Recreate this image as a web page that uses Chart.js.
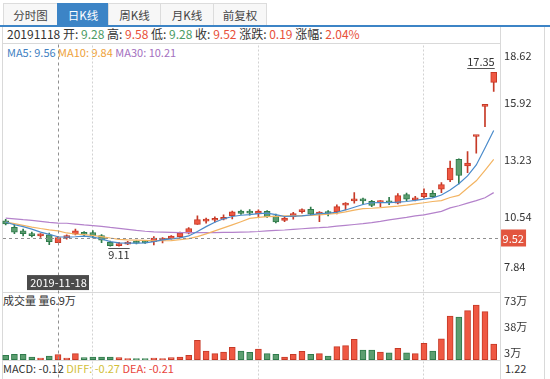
<!DOCTYPE html>
<html><head><meta charset="utf-8">
<script src="https://cdn.jsdelivr.net/npm/chart.js@4.4.1/dist/chart.umd.min.js"></script>
<style>
html,body{margin:0;padding:0;background:#fff;}
body{width:550px;height:379px;position:relative;overflow:hidden;font-family:"Noto Sans CJK SC",sans-serif;font-size:11px;color:#333;}
.tab{position:absolute;top:3px;height:22px;line-height:22px;text-align:center;box-sizing:border-box;border:1px solid #dcdcdc;border-bottom:none;background:#f7f7f7;color:#444;font-size:11.5px;}
.tab.on{background:#3c84c6;border-color:#3c84c6;color:#fff;}
.hl{position:absolute;height:1px;background:#d9d9d9;}
.vl{position:absolute;width:1px;background:#d9d9d9;}
.txt{position:absolute;white-space:nowrap;}
#c{position:absolute;left:0;top:0;}
.g{color:#4c9c65}.r{color:#e8503a}
</style></head>
<body>
<div class="tab" style="left:3px;width:55px">分时图</div>
<div class="tab on" style="left:57px;width:52px">日K线</div>
<div class="tab" style="left:108px;width:53px">周K线</div>
<div class="tab" style="left:160px;width:54px">月K线</div>
<div class="tab" style="left:213px;width:54px">前复权</div>
<div style="position:absolute;left:0;top:25px;width:550px;height:2px;background:#3c84c6"></div>
<div class="vl" style="left:2px;top:27px;height:352px"></div>
<div class="vl" style="left:500px;top:27px;height:352px"></div>
<div class="vl" style="left:544px;top:27px;height:352px"></div>
<div class="hl" style="left:2px;top:43px;width:499px"></div>
<div class="hl" style="left:2px;top:292px;width:499px"></div>
<div class="hl" style="left:2px;top:360px;width:499px"></div>
<div class="txt" id="info" style="left:7px;top:26px;line-height:16px;font-size:12px"></div>
<div class="txt" id="ma" style="left:7px;top:45px;line-height:15px"></div>
<div class="txt" id="volt" style="left:3px;top:293px;line-height:15px"></div>
<div class="txt" id="macd" style="left:3px;top:361px;line-height:15px"></div>
<div class="txt" id="macdAxis" style="left:505px;top:361px;line-height:15px"></div>
<canvas id="c" width="550" height="379"></canvas>
<script>
// ---------- data ----------
const dates = ['2019-11-08','2019-11-11','2019-11-12','2019-11-13','2019-11-14','2019-11-15','2019-11-18','2019-11-19','2019-11-20','2019-11-21','2019-11-22','2019-11-25','2019-11-26','2019-11-27','2019-11-28','2019-11-29','2019-12-02','2019-12-03','2019-12-04','2019-12-05','2019-12-06','2019-12-09','2019-12-10','2019-12-11','2019-12-12','2019-12-13','2019-12-16','2019-12-17','2019-12-18','2019-12-19','2019-12-20','2019-12-23','2019-12-24','2019-12-25','2019-12-26','2019-12-27','2019-12-30','2019-12-31','2020-01-02','2020-01-03','2020-01-06','2020-01-07','2020-01-08','2020-01-09','2020-01-10','2020-01-13','2020-01-14','2020-01-15','2020-01-16','2020-01-17','2020-01-20','2020-01-21','2020-01-22','2020-01-23','2020-02-03','2020-02-04','2020-02-05'];
const open  = [10.31,10.01,9.84,9.71,9.60,9.65,9.28,9.52,9.68,9.74,9.76,9.61,9.30,9.14,9.21,9.32,9.33,9.33,9.40,9.47,9.57,9.73,10.15,10.30,10.34,10.39,10.56,10.78,10.74,10.64,10.77,10.55,10.33,10.51,10.75,10.86,10.64,10.72,10.74,11.06,11.26,11.35,11.24,11.18,11.20,11.15,11.56,11.31,11.46,11.62,11.81,12.25,13.23,12.92,14.31,15.74,16.87];
const high  = [10.39,10.14,9.92,9.78,9.71,9.73,9.58,9.65,9.92,9.80,9.85,9.66,9.35,9.30,9.34,9.37,9.38,9.57,9.52,9.62,9.78,9.99,10.55,10.44,10.50,10.60,10.78,10.82,10.85,10.83,10.80,10.63,10.48,10.72,10.88,10.96,10.75,10.80,11.07,11.18,11.65,11.39,11.29,11.27,11.43,11.60,11.63,11.47,11.83,11.75,12.13,13.15,13.25,13.59,14.35,15.80,17.35];
const low   = [10.12,9.71,9.60,9.55,9.53,9.19,9.28,9.44,9.65,9.60,9.52,9.28,9.12,9.11,9.18,9.22,9.24,9.17,9.27,9.45,9.53,9.70,10.14,10.20,10.25,10.36,10.41,10.62,10.58,10.47,10.48,10.22,10.28,10.39,10.68,10.60,10.28,10.55,10.64,10.83,11.15,11.10,10.99,10.99,11.08,11.12,11.27,11.26,11.40,11.42,11.65,12.17,12.06,12.60,13.52,14.78,16.44];
const close = [10.17,9.78,9.71,9.61,9.66,9.33,9.52,9.60,9.84,9.68,9.60,9.40,9.14,9.24,9.30,9.26,9.27,9.50,9.46,9.59,9.73,9.95,10.37,10.37,10.40,10.47,10.74,10.66,10.68,10.78,10.51,10.26,10.44,10.66,10.83,10.63,10.72,10.66,10.99,11.15,11.34,11.26,11.04,11.21,11.17,11.51,11.34,11.39,11.62,11.46,12.03,12.81,12.46,13.05,14.35,15.80,17.35];
const volume = [5.9,7.2,7.2,3.6,2.3,4.9,6.9,2.3,8.0,2.7,3.6,3.6,3.6,2.7,1.3,1.0,1.0,2.3,1.3,2.7,3.6,5.9,25.9,11.6,8.0,10.3,16.6,11.6,9.9,14.3,8.0,7.2,3.6,7.2,11.2,7.2,8.0,4.9,17.4,18.7,27.2,13.0,13.0,10.3,9.3,15.2,9.3,8.0,21.9,11.6,28.0,58.3,57.0,65.4,73.0,64.1,21.0];
const ma5  = [10.25,10.13,10.04,9.92,9.78,9.67,9.56,9.54,9.56,9.59,9.54,9.46,9.33,9.27,9.26,9.26,9.27,9.33,9.41,9.46,9.51,9.60,9.81,10.04,10.25,10.41,10.52,10.58,10.61,10.66,10.68,10.61,10.52,10.54,10.55,10.60,10.66,10.68,10.72,10.83,10.96,11.09,11.17,11.18,11.18,11.20,11.23,11.28,11.34,11.40,11.54,11.78,12.07,12.44,12.96,13.76,14.59];
const ma10 = [10.25,10.18,10.10,10.02,9.95,9.89,9.84,9.74,9.69,9.66,9.62,9.57,9.50,9.44,9.41,9.40,9.39,9.37,9.37,9.38,9.42,9.47,9.57,9.70,9.84,9.98,10.12,10.27,10.43,10.48,10.51,10.53,10.55,10.55,10.56,10.57,10.60,10.63,10.67,10.74,10.82,10.89,10.91,10.94,10.98,11.01,11.06,11.12,11.17,11.23,11.27,11.42,11.52,11.87,12.21,12.71,13.22];
const ma30 = [10.44,10.41,10.37,10.34,10.29,10.24,10.21,10.20,10.16,10.12,10.09,10.05,10.00,9.96,9.91,9.86,9.82,9.79,9.78,9.77,9.76,9.76,9.76,9.76,9.76,9.77,9.77,9.78,9.79,9.81,9.84,9.86,9.88,9.91,9.94,9.97,9.99,10.02,10.06,10.10,10.14,10.18,10.23,10.29,10.36,10.42,10.48,10.55,10.60,10.68,10.76,10.93,11.03,11.15,11.27,11.41,11.65];
const priceTicks = [18.62, 15.92, 13.23, 10.54, 7.84];
const volTicks = [73, 38, 3];
const gridIndex = [10, 29, 48];
const crossIndex = 6;
const crossChange = 0.19, crossPct = 2.04;
const macdVals = {MACD: -0.12, DIFF: -0.27, DEA: -0.21};
const macdAxisLabel = 1.22;

// ---------- layout constants ----------
const PRICE_MIN = 2.822, PRICE_MAX = 18.62;
const VOL_MIN = -25.76, VOL_MAX = 419.32;
const RED_FILL='#ef5843', RED_LINE='#c63a27', GRN_FILL='#5c9e70', GRN_LINE='#2f7b4b';
const FONT = '11px "Noto Sans CJK SC", sans-serif';

// ---------- html texts ----------
const ci = crossIndex;
const fmt = v => v.toFixed(2);
const colOf = (v, ref) => v >= ref ? 'r' : 'g';
const prevClose = close[ci] - crossChange;
document.getElementById('info').innerHTML =
  dates[ci].replace(/-/g,'') + ' 开: <span class="'+colOf(open[ci],prevClose)+'">'+fmt(open[ci])+'</span> 高: <span class="'+colOf(high[ci],prevClose)+'">'+fmt(high[ci])+
  '</span> 低: <span class="'+colOf(low[ci],prevClose)+'">'+fmt(low[ci])+'</span> 收: <span class="'+colOf(close[ci],prevClose)+'">'+fmt(close[ci])+
  '</span> 涨跌: <span class="r">'+fmt(crossChange)+'</span> 涨幅: <span class="r">'+fmt(crossPct)+'%</span>';
document.getElementById('ma').innerHTML =
  '<span style="color:#3f7fc2">MA5: '+fmt(ma5[ci])+'</span> <span style="color:#eea23a">MA10: '+fmt(ma10[ci])+'</span> <span style="color:#a46fc0">MA30: '+fmt(ma30[ci])+'</span>';
document.getElementById('volt').textContent = '成交量 量' + volume[ci] + '万';
document.getElementById('macd').innerHTML =
  '<span style="color:#333">MACD: '+fmt(macdVals.MACD)+'</span> <span style="color:#d2bf3a">DIFF: '+fmt(macdVals.DIFF)+'</span> <span style="color:#e8453c">DEA: '+fmt(macdVals.DEA)+'</span>';
document.getElementById('macdAxis').textContent = fmt(macdAxisLabel);

// ---------- chart ----------
const up = close.map((c,i) => c >= open[i]);

const overlay = {
  id: 'overlay',
  afterDatasetsDraw(chart) {
    const {ctx, chartArea: ca} = chart;
    const xs = chart.scales.x, ys = chart.scales.y, vs = chart.scales.v;
    ctx.save();
    ctx.font = FONT;
    // crosshair
    const cx = Math.round(xs.getPixelForValue(ci)) + 0.5;
    const cy = Math.round(ys.getPixelForValue(close[ci])) + 0.5;
    ctx.strokeStyle = '#8f8f8f'; ctx.lineWidth = 1; ctx.setLineDash([3,3]);
    ctx.beginPath();
    ctx.moveTo(3, cy); ctx.lineTo(ca.right + 2, cy);
    ctx.moveTo(cx, ca.top - 1); ctx.lineTo(cx, ca.bottom);
    ctx.stroke();
    ctx.setLineDash([]);
    // high / low markers
    let hi = 0, lo = 0;
    high.forEach((h,i) => { if (h > high[hi]) hi = i; });
    low.forEach((l,i) => { if (l < low[lo]) lo = i; });
    ctx.fillStyle = '#333'; ctx.strokeStyle = '#555'; ctx.textBaseline = 'alphabetic'; ctx.textAlign = 'left';
    const hx = xs.getPixelForValue(hi), hy = ys.getPixelForValue(high[hi]);
    const ht = fmt(high[hi]), hw = ctx.measureText(ht).width;
    let hl = hx - hw/2; if (hl + hw > ca.right) hl = hx - hw + 1;
    ctx.fillText(ht, hl, hy - 6);
    ctx.beginPath(); ctx.moveTo(hl, Math.round(hy - 4) + 0.5); ctx.lineTo(hl + hw, Math.round(hy - 4) + 0.5); ctx.stroke();
    const lx = xs.getPixelForValue(lo), ly = ys.getPixelForValue(low[lo]);
    const lt = fmt(low[lo]), lw = ctx.measureText(lt).width;
    const ll = lx - lw/2;
    ctx.fillText(lt, ll, ly + 12.5);
    ctx.beginPath(); ctx.moveTo(ll, Math.round(ly + 2) + 0.5); ctx.lineTo(ll + lw, Math.round(ly + 2) + 0.5); ctx.stroke();
    // price axis labels
    const ax = ca.right + 6;
    ctx.fillStyle = '#333';
    priceTicks.forEach((t, i) => {
      const py = ys.getPixelForValue(t);
      let by = py + 5;
      if (i === 0) by = py + 14.3;
      else if (i === priceTicks.length - 1) by = py - 2;
      ctx.fillText(t.toFixed(2), ax, by);
    });
    // volume axis labels
    volTicks.forEach(t => {
      ctx.fillText(t + '万', ax, vs.getPixelForValue(t));
    });
    // current close tag
    const tag = fmt(close[ci]);
    const tw = ctx.measureText(tag).width;
    ctx.fillStyle = '#e2553f';
    ctx.fillRect(ca.right + 3, cy - 9, Math.ceil(tw) + 3, 17);
    ctx.fillStyle = '#fff';
    ctx.fillText(tag, ca.right + 4.5, cy + 4);
    // date tag
    const dt = dates[ci];
    const dw = ctx.measureText(dt).width + 6;
    const dTop = ys.getPixelForValue(priceTicks[priceTicks.length-1]) + 2;
    ctx.fillStyle = '#4b4b4b';
    ctx.fillRect(Math.round(cx - dw/2), dTop, Math.round(dw), 15);
    ctx.fillStyle = '#fff'; ctx.textAlign = 'center';
    ctx.fillText(dt, cx, dTop + 11.5);
    ctx.restore();
  }
};

new Chart(document.getElementById('c'), {
  type: 'bar',
  data: {
    labels: dates,
    datasets: [
      {type:'line', label:'MA5', data: ma5, yAxisID:'y', borderColor:'#4a8bcb', borderWidth:1.2, pointRadius:0, tension:0, order:0},
      {type:'line', label:'MA10', data: ma10, yAxisID:'y', borderColor:'#f3b462', borderWidth:1.2, pointRadius:0, tension:0, order:1},
      {type:'line', label:'MA30', data: ma30, yAxisID:'y', borderColor:'#b482cb', borderWidth:1.2, pointRadius:0, tension:0, order:2},
      {label:'K', data: open.map((o,i) => [o, close[i]]), yAxisID:'y',
        backgroundColor: up.map(u => u ? RED_FILL : GRN_FILL), borderColor: up.map(u => u ? RED_LINE : GRN_LINE),
        borderWidth:1, borderSkipped:false, barThickness:6, grouped:false, minBarLength:2, order:3},
      {label:'wick', data: low.map((l,i) => [l, high[i]]), yAxisID:'y',
        backgroundColor: up.map(u => u ? RED_LINE : GRN_LINE), barThickness:1, grouped:false, order:4},
      {label:'成交量', data: volume, yAxisID:'v',
        backgroundColor: up.map(u => u ? RED_FILL : GRN_FILL), borderColor: up.map(u => u ? RED_LINE : GRN_LINE),
        borderWidth:1, borderSkipped:false, barThickness:6, grouped:false, minBarLength:1, order:5}
    ]
  },
  options: {
    responsive: false,
    animation: false,
    devicePixelRatio: 1,
    layout: {padding: {left: 1.34, right: 51.94, top: 45.5, bottom: 0}},
    plugins: {legend: {display:false}, tooltip: {enabled:false}},
    scales: {
      x: {
        display: true, offset: true,
        grid: {offset:false, drawTicks:false, lineWidth:1,
          color: ctx => gridIndex.includes(ctx.index) ? '#d2d2d2' : 'rgba(0,0,0,0)'},
        border: {display:false, dash:[2,2]},
        ticks: {display:false},
        afterFit(s) { s.height = 0; }
      },
      y: {display:false, position:'right', min: PRICE_MIN, max: PRICE_MAX},
      v: {display:false, position:'right', min: VOL_MIN, max: VOL_MAX}
    }
  },
  plugins: [overlay]
});
</script>
</body></html>
